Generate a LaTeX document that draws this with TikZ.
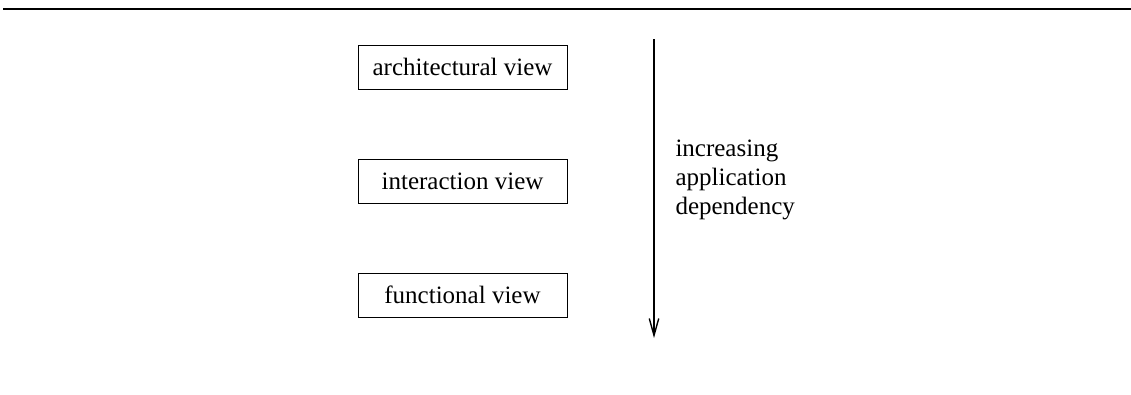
\documentclass[tikz,border=0pt]{standalone}
\usepackage{fontspec}
\setmainfont{Liberation Serif}
\usetikzlibrary{positioning,arrows.meta}

\begin{document}
\begin{tikzpicture}[x=0.4pt,y=-0.4pt,
			every node/.style = {font=\fontsize{10}{11.5}\selectfont},
			view/.style = {shape=rectangle, draw, line width=0.4pt,
				minimum width=83.6pt, minimum height=17.6pt, inner sep=0pt},
			node distance=27.6pt]
			\useasboundingbox (0,0) rectangle (1131,394);
			% rule across the top
			\draw[line width=1pt] (3,9) -- (1131,9);
			% the three views
			\node[view] (arch) at (462.5,67) {architectural view};
			\node[view, below=of arch] (inter) {interaction view};
			\node[view, below=of inter] (func) {functional view};
			% dependency arrow
			\coordinate (from) at (654,39);
			\coordinate (to) at (654,338);
			\draw[line width=0.55pt, -{Straight Barb[length=6.8pt,width=3.8pt]}] (from) -- (to);
			\node[anchor=west, align=left, inner sep=0pt] (dep) at (675,180)
				{increasing\\application\\dependency};
		\end{tikzpicture}
\end{document}
